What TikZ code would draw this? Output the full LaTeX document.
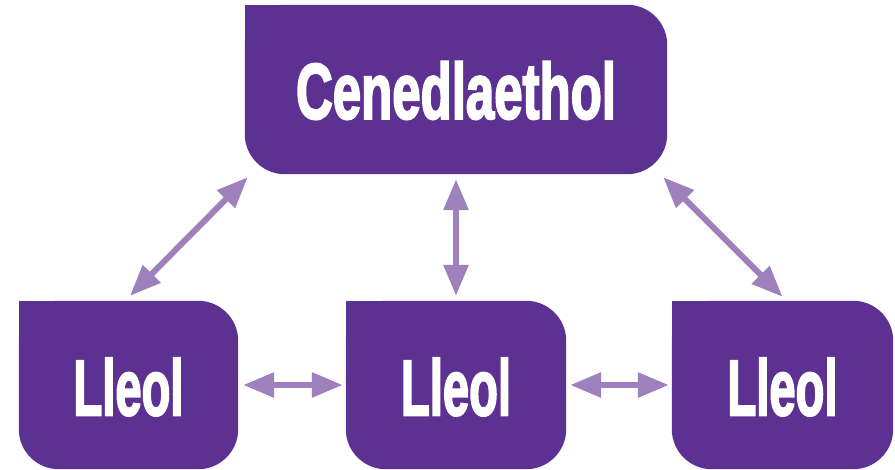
\documentclass[tikz,border=0pt]{standalone}
\usepackage{fontspec}
\usepackage{graphicx}
\setmainfont{Liberation Sans}
\newfontfamily\boxfont{Liberation Sans}[FakeBold=3]
\usetikzlibrary{arrows.meta,backgrounds}
\definecolor{boxpurple}{HTML}{5C3191}
\definecolor{arrowpurple}{HTML}{9E80BC}
\tikzset{
  box/.style={inner sep=0pt, text=white, font=\boxfont\bfseries\fontsize{80}{80}\selectfont},
  boxshape/.style={fill=boxpurple},
  link/.style={draw=arrowpurple, line width=6pt,
    {Triangle[length=31pt,width=24pt]}-{Triangle[length=31pt,width=24pt]}}
}
\newcommand{\boxbg}[1]{%
  \fill[boxshape, rounded corners=40pt] (#1.north west) rectangle (#1.south east);
  \fill[boxshape] (#1.north west) rectangle ([xshift=45pt,yshift=-45pt]#1.north west);
}
\begin{document}
\begin{tikzpicture}[x=1pt,y=1pt]
\useasboundingbox (0,0) rectangle (895,469);
\node[box, minimum width=422pt, minimum height=169pt] (nat) at (456,379.5) {};
\node[box, minimum width=219pt, minimum height=168pt] (l1) at (128.5,84) {};
\node[box, minimum width=220pt, minimum height=168pt] (l2) at (456,84) {};
\node[box, minimum width=221pt, minimum height=168pt] (l3) at (782.5,84) {};
\begin{scope}[on background layer]
\boxbg{nat}
\boxbg{l1}
\boxbg{l2}
\boxbg{l3}
\end{scope}
\node[box] (natt) at ([yshift=-1pt]nat.center) {\resizebox{320pt}{57pt}{Cenedlaethol}};
\node[box] (l1t) at ([yshift=-2pt]l1.center) {\resizebox{110pt}{57pt}{Lleol}};
\node[box] (l2t) at ([yshift=-2pt]l2.center) {\resizebox{110pt}{57pt}{Lleol}};
\node[box] (l3t) at ([yshift=-2pt]l3.center) {\resizebox{110pt}{57pt}{Lleol}};
\draw[link] ([shift={(3pt,-3pt)}]nat.south west) -- ([shift={(1.5pt,5pt)}]l1.north);
\draw[link] ([yshift=-5pt]nat.south) -- ([yshift=5pt]l2.north);
\draw[link] ([shift={(-4pt,-3pt)}]nat.south east) -- ([yshift=4pt]l3.north);
\draw[link] ([xshift=5pt]l1.east) -- ([xshift=-3pt]l2.west);
\draw[link] ([xshift=4pt]l2.east) -- ([xshift=-3pt]l3.west);
\end{tikzpicture}
\end{document}
